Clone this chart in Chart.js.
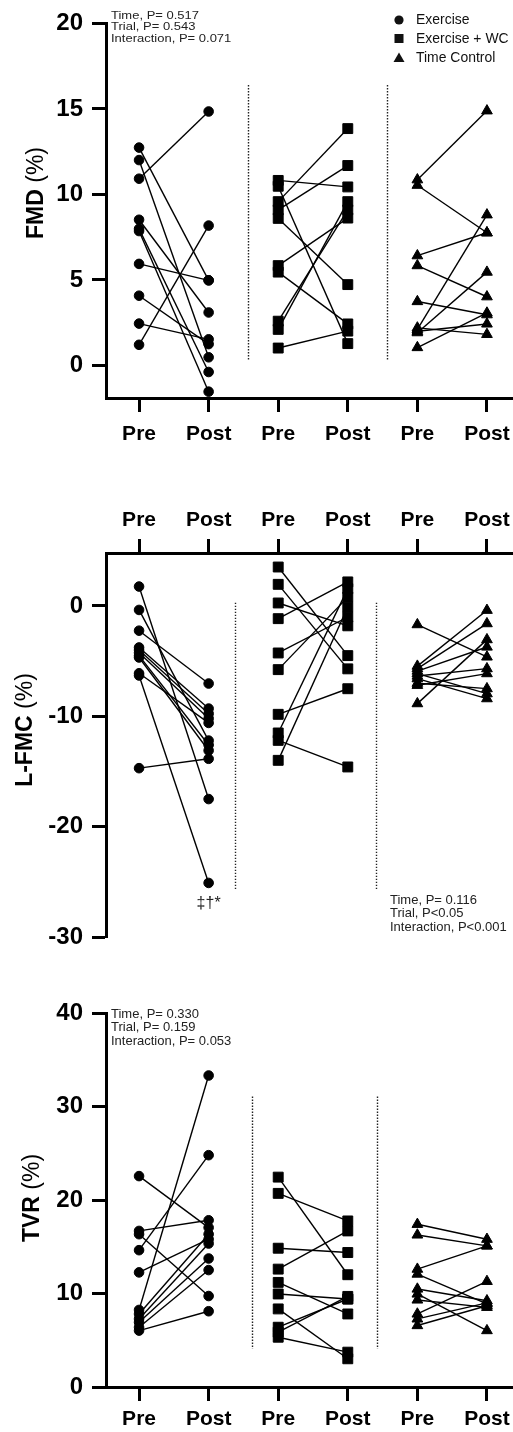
<!DOCTYPE html>
<html>
<head>
<meta charset="utf-8">
<script src="https://cdn.jsdelivr.net/npm/chart.js@4.4.1/dist/chart.umd.min.js"></script>
<style>
html, body { margin: 0; padding: 0; background: #fff; }
body { width: 513px; height: 1432px; position: relative; overflow: hidden; }
canvas { position: absolute; left: 0; }
</style>
</head>
<body>
<canvas id="fmd" width="530" height="460" style="top:0px"></canvas>
<canvas id="lfmc" width="530" height="530" style="top:440px"></canvas>
<canvas id="tvr" width="530" height="442" style="top:990px"></canvas>
<script>
// categories
const xLabels = ["Pre", "Post", "Pre", "Post", "Pre", "Post"];
const groupNames = ["Exercise", "Exercise + WC", "Time Control"];
const markers = ["circle", "rect", "triangle"];

// FMD (%)
const fmdExPre  = [12.74, 12.01, 10.92, 8.52, 7.99, 7.86, 5.94, 4.08, 2.45, 1.21];
const fmdExPost = [4.98, 0.48, 14.85, 3.10, -0.38, -1.53, 4.98, 1.25, 1.53, 8.18];
const fmdWcPre  = [10.82, 10.48, 9.58, 9.10, 8.60, 5.84, 5.46, 2.59, 2.11, 1.02];
const fmdWcPost = [10.44, 1.28, 13.85, 11.69, 4.73, 8.62, 2.43, 9.10, 9.58, 2.01];
const fmdTcPre  = [10.86, 10.54, 6.42, 5.84, 3.74, 2.11, 2.00, 1.92, 2.20, 1.05];
const fmdTcPost = [14.89, 7.76, 7.76, 4.02, 2.97, 8.81, 2.43, 5.46, 1.82, 3.07];
const fmdTicks = [0, 5, 10, 15, 20];
const fmdStats = ["Time, P= 0.517", "Trial, P= 0.543", "Interaction, P= 0.071"];

// L-FMC (%)
const lfmcExPre  = [1.76, -0.36, -2.24, -3.76, -4.00, -4.24, -4.50, -4.67, -6.10, -6.30, -14.70];
const lfmcExPost = [-17.50, -12.20, -7.03, -9.30, -9.76, -10.20, -12.60, -13.10, -10.60, -25.10, -13.85];
const lfmcWcPre  = [3.53, 1.96, 0.27, -1.15, -4.26, -5.77, -9.82, -11.51, -12.18, -13.99];
const lfmcWcPost = [-4.50, -5.70, -1.80, 2.18, -1.00, 0.80, -7.50, 1.57, -14.59, -0.10];
const lfmcTcPre  = [-1.69, -5.45, -5.68, -5.90, -6.13, -6.35, -6.59, -7.00, -7.19, -8.85];
const lfmcTcPost = [-4.62, -0.39, -1.60, -3.72, -7.95, -5.68, -8.40, -7.49, -6.13, -3.05];
const lfmcTicks = [-30, -20, -10, 0];
const lfmcStats = ["Time, P= 0.116", "Trial, P<0.05", "Interaction, P<0.001"];

// TVR (%)
const tvrExPre  = [22.58, 16.71, 16.36, 14.65, 12.27, 8.25, 7.82, 7.29, 6.93, 6.40, 6.04];
const tvrExPost = [17.07, 17.85, 9.74, 24.82, 15.82, 33.35, 16.36, 15.36, 13.76, 12.52, 8.11];
const tvrWcPre  = [22.47, 20.73, 14.86, 12.62, 11.20, 9.96, 8.36, 6.40, 5.87, 5.33];
const tvrWcPost = [12.02, 17.78, 14.40, 16.71, 7.82, 9.42, 3.02, 9.42, 9.70, 3.73];
const tvrTcPre  = [17.42, 16.28, 12.62, 12.09, 10.49, 9.96, 9.32, 7.82, 7.29, 6.58];
const tvrTcPost = [15.82, 15.11, 15.11, 8.89, 9.24, 6.04, 8.53, 11.31, 9.00, 8.70];
const tvrTicks = [0, 10, 20, 30, 40];
const tvrStats = ["Time, P= 0.330", "Trial, P= 0.159", "Interaction, P= 0.053"];

const FF = '"Liberation Sans", Arial, Helvetica, sans-serif';
const pointSizes = { circle: 4.8, rect: 7, triangle: 6.2 };

function pairedSets(groups) {
    const sets = [];
    groups.forEach((g, gi) => {
        g.pre.forEach((v, i) => {
            sets.push({
                data: [{ x: gi * 2, y: v }, { x: gi * 2 + 1, y: g.post[i] }],
                showLine: true,
                borderColor: "#000",
                borderWidth: 1.4,
                backgroundColor: "#000",
                pointStyle: markers[gi],
                pointRadius: pointSizes[markers[gi]],
                pointBorderWidth: 1,
                pointBorderColor: "#000"
            });
        });
    });
    return sets;
}

// dotted separators, axis title, stats text, legend
const decor = {
    id: "decor",
    afterDraw(chart, args, o) {
        const ctx = chart.ctx;
        const xs = chart.scales.x, ys = chart.scales.y;
        ctx.save();

        ctx.strokeStyle = "#222";
        ctx.lineWidth = 1.4;
        ctx.setLineDash([1.4, 1.6]);
        o.dividers.forEach(d => {
            const px = Math.round(xs.getPixelForValue(d)) + 0.5;
            ctx.beginPath();
            ctx.moveTo(px, ys.getPixelForValue(o.divTop));
            ctx.lineTo(px, ys.getPixelForValue(o.divBottom));
            ctx.stroke();
        });
        ctx.setLineDash([]);

        // y title: bold name + regular unit
        ctx.save();
        ctx.translate(o.title.x, o.title.y);
        ctx.rotate(-Math.PI / 2);
        ctx.fillStyle = "#000";
        ctx.textBaseline = "middle";
        ctx.textAlign = "left";
        ctx.font = "bold 23px " + FF;
        const w1 = ctx.measureText(o.title.bold + " ").width;
        ctx.font = "23px " + FF;
        const w2 = ctx.measureText(o.title.unit).width;
        const sx = -(w1 + w2) / 2;
        ctx.font = "bold 23px " + FF;
        ctx.fillText(o.title.bold + " ", sx, 0);
        ctx.font = "23px " + FF;
        ctx.fillText(o.title.unit, sx + w1, 0);
        ctx.restore();

        // stats
        ctx.fillStyle = "#222";
        ctx.font = "13px " + FF;
        ctx.textAlign = "left";
        ctx.textBaseline = "middle";
        o.stats.lines.forEach((t, i) => {
            ctx.save();
            ctx.translate(o.stats.x, o.stats.y + i * o.stats.gap);
            ctx.scale(1, o.stats.sy || 1);
            ctx.fillText(t, 0, 0);
            ctx.restore();
        });

        if (o.mark) {
            ctx.fillStyle = "#222";
            ctx.font = "16px " + FF;
            ctx.textAlign = "center";
            ctx.fillText(o.mark.text, xs.getPixelForValue(o.mark.x), ys.getPixelForValue(o.mark.y));
        }

        if (o.legend) {
            ctx.fillStyle = "#111";
            const lx = 399;
            const ly = [20, 38.5, 58];
            ctx.beginPath(); ctx.arc(lx, ly[0], 4.6, 0, Math.PI * 2); ctx.fill();
            ctx.fillRect(lx - 4.5, ly[1] - 4.5, 9, 9);
            ctx.beginPath();
            ctx.moveTo(lx, ly[2] - 5.5); ctx.lineTo(lx + 5.5, ly[2] + 4); ctx.lineTo(lx - 5.5, ly[2] + 4);
            ctx.closePath(); ctx.fill();
            ctx.font = "15px " + FF;
            ctx.textAlign = "left";
            groupNames.forEach((n, i) => {
                ctx.save();
                ctx.translate(416, ly[i]);
                ctx.scale(0.93, 1);
                ctx.fillText(n, 0, 0);
                ctx.restore();
            });
        }
        ctx.restore();
    }
};

function makePanel(id, groups, yMin, yMax, yTicks, xPos, xHeight, labelPad, pad, deco) {
    const axisFont = { family: FF, weight: "bold" };
    new Chart(document.getElementById(id), {
        type: "scatter",
        data: { datasets: pairedSets(groups) },
        plugins: [decor],
        options: {
            responsive: false,
            animation: false,
            events: [],
            layout: { padding: pad },
            plugins: {
                legend: { display: false },
                tooltip: { enabled: false },
                decor: deco
            },
            scales: {
                x: {
                    type: "linear",
                    position: xPos,
                    min: -0.475,
                    max: 5.475,
                    afterBuildTicks: s => { s.ticks = xLabels.map((l, i) => ({ value: i })); },
                    afterFit: s => { s.height = xHeight; },
                    ticks: {
                        callback: (v, i) => xLabels[i],
                        font: Object.assign({ size: 21 }, axisFont),
                        color: "#000",
                        padding: labelPad,
                        autoSkip: false,
                        maxRotation: 0
                    },
                    grid: { drawOnChartArea: false, drawTicks: true, tickLength: 14, tickWidth: 3, tickColor: "#000" },
                    border: { display: true, color: "#000", width: 3 }
                },
                y: {
                    type: "linear",
                    min: yMin,
                    max: yMax,
                    afterBuildTicks: s => { s.ticks = yTicks.map(v => ({ value: v })); },
                    afterFit: s => { s.width = 106; },
                    ticks: {
                        font: Object.assign({ size: 24 }, axisFont),
                        color: "#000",
                        padding: 9
                    },
                    grid: { drawOnChartArea: false, drawTicks: true, tickLength: 14, tickWidth: 3, tickColor: "#000" },
                    border: { display: true, color: "#000", width: 3 }
                }
            }
        }
    });
}

makePanel("fmd",
    [{ pre: fmdExPre, post: fmdExPost }, { pre: fmdWcPre, post: fmdWcPost }, { pre: fmdTcPre, post: fmdTcPost }],
    -1.9, 20, fmdTicks, "bottom", 62, 10, { top: 17, right: 10, bottom: 0, left: 0 },
    {
        dividers: [1.566, 3.563], divTop: 16.4, divBottom: 0.3,
        title: { bold: "FMD", unit: "(%)", x: 37, y: 193 },
        stats: { lines: fmdStats, x: 111, y: 15.5, gap: 11.5, sy: 0.86 },
        legend: true
    });

makePanel("lfmc",
    [{ pre: lfmcExPre, post: lfmcExPost }, { pre: lfmcWcPre, post: lfmcWcPost }, { pre: lfmcTcPre, post: lfmcTcPost }],
    -30, 4.8, lfmcTicks, "top", 113, 6, { top: 0, right: 10, bottom: 33, left: 0 },
    {
        dividers: [1.379, 3.405], divTop: 0.3, divBottom: -25.8,
        title: { bold: "L-FMC", unit: "(%)", x: 26, y: 290 },
        stats: { lines: lfmcStats, x: 390, y: 460, gap: 13.5 },
        mark: { text: "\u2021\u2020*", x: 1, y: -27 }
    });

makePanel("tvr",
    [{ pre: tvrExPre, post: tvrExPost }, { pre: tvrWcPre, post: tvrWcPost }, { pre: tvrTcPre, post: tvrTcPost }],
    0, 40, tvrTicks, "bottom", 45, 6, { top: 22, right: 10, bottom: 0, left: 0 },
    {
        dividers: [1.624, 3.42], divTop: 31.1, divBottom: 4.1,
        title: { bold: "TVR", unit: "(%)", x: 33, y: 208 },
        stats: { lines: tvrStats, x: 111, y: 24, gap: 13.5 }
    });
</script>
</body>
</html>
